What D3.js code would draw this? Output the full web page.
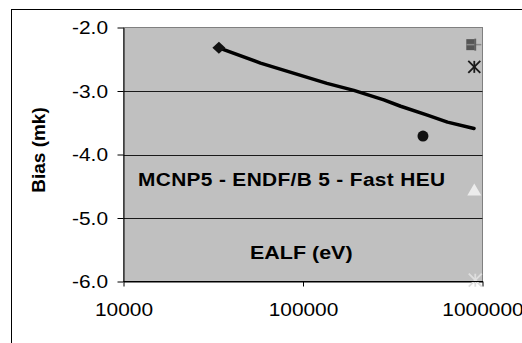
<!DOCTYPE html>
<html>
<head>
<meta charset="utf-8">
<script src="https://cdn.jsdelivr.net/npm/d3@7"></script>
<style>
  html, body { margin: 0; padding: 0; background: #fff; overflow: hidden; }
  svg { display: block; font-family: "Liberation Sans", Arial, sans-serif; }
</style>
</head>
<body>
<svg id="chart" width="522" height="343"></svg>
<script>
// Bias trend versus EALF (log axis), MCNP5 with ENDF/B 5, fast HEU benchmarks
const trendEALF = [34000, 58000, 136000, 192000, 282000, 350000, 493000, 638000, 897000];
const trendBias = [-2.32, -2.56, -2.88, -2.99, -3.14, -3.24, -3.38, -3.49, -3.59];

const diamondPoint = { ealf: 34000, bias: -2.32 };
const circlePoint  = { ealf: 466000, bias: -3.71 };
const edgeEALF = 900000;
const squarePlusBias = -2.27;
const asteriskBias   = -2.62;
const trianglePointBias = -4.56;
const lightStarBias  = -5.98;

const xTicks = [10000, 100000, 1000000];
const yTicks = [-2, -3, -4, -5, -6];
const chartTitle = "MCNP5 - ENDF/B 5 - Fast HEU";
const xTitle = "EALF (eV)";
const yTitle = "Bias (mk)";

const svg = d3.select("#chart");
const L = 123.5, R = 482.5, T = 27.5, B = 281.5;
const STRETCH = 1.13;   // glyph width factor for the text

const x = d3.scaleLog().domain([1e4, 1e6]).range([L, R]);
const y = d3.scaleLinear().domain([-6, -2]).range([B, T]);

// outer chart frame
svg.append("rect").attr("x", 11.5).attr("y", 9.5).attr("width", 600).attr("height", 400)
  .attr("fill", "#fff").attr("stroke", "#000").attr("stroke-width", 1);

// plot area
svg.append("rect").attr("x", L).attr("y", T).attr("width", R - L).attr("height", B - T)
  .attr("fill", "#c0c0c0").attr("stroke", "#808080").attr("stroke-width", 1);

// horizontal gridlines
svg.append("g").selectAll("line").data(yTicks.filter(v => v > -6 && v < -2)).join("line")
  .attr("x1", L).attr("x2", R)
  .attr("y1", d => Math.round(y(d)) + 0.5).attr("y2", d => Math.round(y(d)) + 0.5)
  .attr("stroke", "#1a1a1a").attr("stroke-width", 1);

// axes
const yAxis = d3.axisLeft(y).tickValues(yTicks).tickSize(6).tickPadding(0)
  .tickFormat(d3.format(".1f")).tickSizeOuter(0);
const gy = svg.append("g").attr("transform", `translate(${L},0)`).call(yAxis);
gy.select(".domain").attr("stroke", "#000");
gy.selectAll(".tick line").attr("stroke", "#000");
gy.selectAll(".tick text")
  .attr("font-size", 18.5).attr("fill", "#000")
  .attr("x", -15.5 / STRETCH).attr("dy", "0.35em")
  .attr("transform", `scale(${STRETCH},1)`)
  .text(d => d3.format(".1f")(d).replace("−", "-"));

const xAxis = d3.axisBottom(x).tickValues(xTicks).tickSize(5).tickPadding(0)
  .tickFormat(d3.format("d")).tickSizeOuter(0);
const gx = svg.append("g").attr("transform", `translate(0,${B})`).call(xAxis);
gx.select(".domain").attr("stroke", "#000");
gx.selectAll(".tick line").attr("stroke", "#000");
gx.selectAll(".tick text")
  .attr("font-size", 18.5).attr("fill", "#000")
  .attr("y", 35).attr("dy", 0)
  .attr("transform", `scale(${STRETCH},1)`);

// trend line
const line = d3.line().x(d => x(d[0])).y(d => y(d[1])).curve(d3.curveLinear);
svg.append("path").datum(d3.zip(trendEALF, trendBias))
  .attr("d", line).attr("fill", "none").attr("stroke", "#000")
  .attr("stroke-width", 3.5).attr("stroke-linejoin", "round").attr("stroke-linecap", "round");

// diamond marker
{
  const cx = x(diamondPoint.ealf), cy = y(diamondPoint.bias);
  svg.append("path")
    .attr("d", `M${cx},${cy - 6}L${cx + 6.5},${cy}L${cx},${cy + 6}L${cx - 6.5},${cy}Z`)
    .attr("fill", "#111");
}

// circle marker
svg.append("circle").attr("cx", x(circlePoint.ealf)).attr("cy", y(circlePoint.bias))
  .attr("r", 5.5).attr("fill", "#111");

// square with plus marker
{
  const cx = x(edgeEALF), cy = y(squarePlusBias);
  const g = svg.append("g");
  g.append("rect").attr("x", cx - 8).attr("y", cy - 5.5).attr("width", 8.5).attr("height", 11)
    .attr("fill", "#555");
  g.append("line").attr("x1", cx - 8).attr("x2", cx + 7).attr("y1", cy).attr("y2", cy)
    .attr("stroke", "#8a8a8a").attr("stroke-width", 1.5);
  g.append("line").attr("x1", cx + 1).attr("x2", cx + 1).attr("y1", cy - 6).attr("y2", cy + 6)
    .attr("stroke", "#606060").attr("stroke-width", 1.8);
}

// asterisk markers
function asterisk(cx, cy, r, color, w) {
  const g = svg.append("g").attr("stroke", color).attr("stroke-width", w).attr("stroke-linecap", "butt");
  g.append("line").attr("x1", cx - r).attr("y1", cy - r).attr("x2", cx + r).attr("y2", cy + r);
  g.append("line").attr("x1", cx - r).attr("y1", cy + r).attr("x2", cx + r).attr("y2", cy - r);
  g.append("line").attr("x1", cx).attr("y1", cy - r).attr("x2", cx).attr("y2", cy + r);
}
asterisk(x(edgeEALF), y(asteriskBias), 6, "#1a1a1a", 1.8);

// triangle marker
{
  const cx = x(edgeEALF), cy = y(trianglePointBias);
  svg.append("path")
    .attr("d", `M${cx},${cy - 6.5}L${cx + 7},${cy + 5.5}L${cx - 7},${cy + 5.5}Z`)
    .attr("fill", "#ececec");
}

asterisk(x(edgeEALF) + 1, y(lightStarBias), 6.5, "#dedede", 1.8);

// redraw axis lines on top of markers
svg.append("line").attr("x1", L).attr("x2", R + 0.5).attr("y1", B).attr("y2", B)
  .attr("stroke", "#000").attr("stroke-width", 1);

// titles
function stretchedText(tx, ty, str, size, weight, anchor) {
  return svg.append("text")
    .attr("transform", `translate(${tx},${ty}) scale(${STRETCH},1)`)
    .attr("font-size", size).attr("font-weight", weight)
    .attr("text-anchor", anchor).attr("fill", "#000").text(str);
}
stretchedText(138, 185.5, chartTitle, 18.5, "bold", "start").attr("letter-spacing", 0.3);
stretchedText(250, 259, xTitle, 19, "bold", "start");

svg.append("text")
  .attr("transform", "translate(45,150) rotate(-90)")
  .attr("font-size", 19).attr("font-weight", "bold").attr("text-anchor", "middle")
  .attr("fill", "#000").text(yTitle);
</script>
</body>
</html>
